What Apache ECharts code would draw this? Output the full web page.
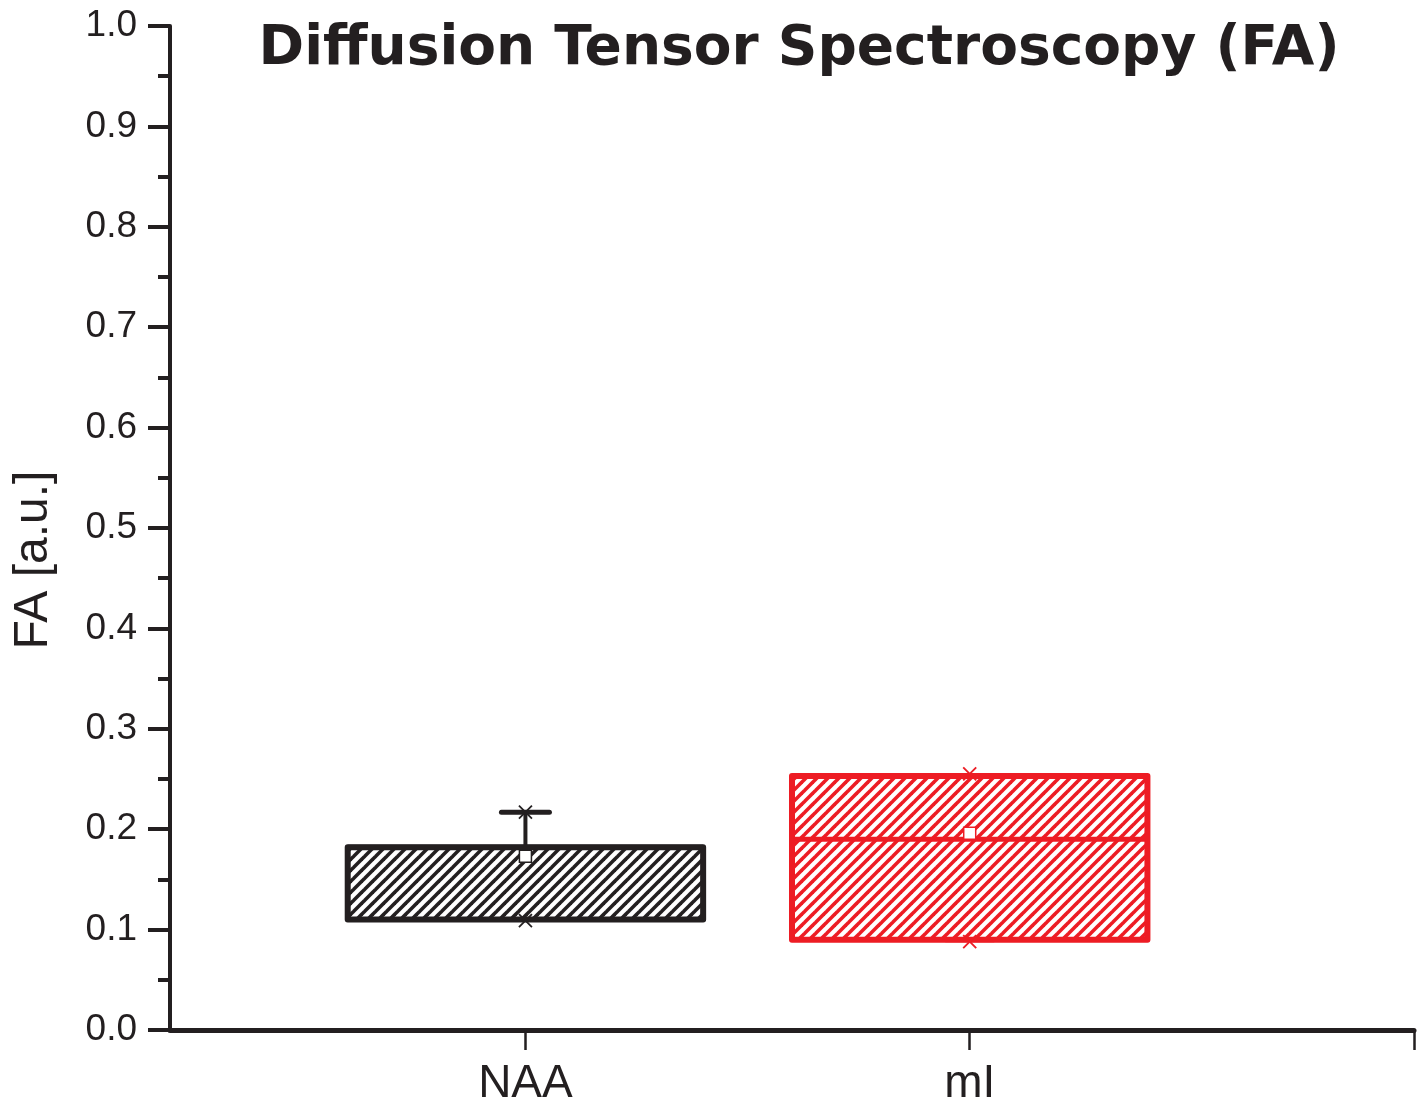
<!DOCTYPE html>
<html>
<head>
<meta charset="utf-8">
<script src="https://cdn.jsdelivr.net/npm/echarts@6/dist/echarts.min.js"></script>
<style>
html,body{margin:0;padding:0;background:#fff;}
#chart{width:1426px;height:1103px;}
</style>
</head>
<body>
<div id="chart"></div>
<script>
// ---- data ----
var categories = ['NAA', 'mI'];
var positions = [1, 2];
var q1 = [0.110, 0.090];
var q3 = [0.182, 0.253];
var medians = [0.182, 0.190];
var means = [0.173, 0.196];
var whiskerLow = [0.110, 0.090];
var whiskerHigh = [0.217, 0.253];
var minValues = [0.109, 0.088];
var maxValues = [0.217, 0.255];
var boxColors = ['#231f20', '#ed1c24'];
var yTicks = [0, 0.1, 0.2, 0.3, 0.4, 0.5, 0.6, 0.7, 0.8, 0.9, 1.0];

var ink = '#231f20';

function makeHatch(color) {
  var s = 11;
  var c = document.createElement('canvas');
  c.width = s; c.height = s;
  var g = c.getContext('2d');
  g.strokeStyle = color;
  g.lineWidth = 3.6;
  for (var k = -1; k <= 1; k++) {
    g.beginPath();
    g.moveTo(k * s - 2, s + 2);
    g.lineTo(k * s + s + 2, -2);
    g.stroke();
  }
  return c;
}
var hatches = boxColors.map(makeHatch);

var data = positions.map(function (p, i) {
  return [p, q1[i], q3[i], medians[i], means[i], whiskerLow[i], whiskerHigh[i], minValues[i], maxValues[i], i];
});

function renderItem(params, api) {
  var x = api.value(0);
  var idx = api.value(9);
  var col = boxColors[idx];
  var bw = api.size([0.8, 0])[0];
  var cw = api.size([0.108, 0])[0];
  var pQ1 = api.coord([x, api.value(1)]);
  var pQ3 = api.coord([x, api.value(2)]);
  var pMed = api.coord([x, api.value(3)]);
  var pMean = api.coord([x, api.value(4)]);
  var pWL = api.coord([x, api.value(5)]);
  var pWH = api.coord([x, api.value(6)]);
  var pMin = api.coord([x, api.value(7)]);
  var pMax = api.coord([x, api.value(8)]);
  var cx = pQ1[0];
  var children = [];
  // whiskers
  children.push({type: 'line', shape: {x1: cx, y1: pQ3[1], x2: cx, y2: pWH[1]}, style: {stroke: col, lineWidth: 4}});
  children.push({type: 'line', shape: {x1: cx - cw / 2, y1: pWH[1], x2: cx + cw / 2, y2: pWH[1]}, style: {stroke: col, lineWidth: 5, lineCap: 'round'}});
  children.push({type: 'line', shape: {x1: cx, y1: pQ1[1], x2: cx, y2: pWL[1]}, style: {stroke: col, lineWidth: 4}});
  children.push({type: 'line', shape: {x1: cx - cw / 2, y1: pWL[1], x2: cx + cw / 2, y2: pWL[1]}, style: {stroke: col, lineWidth: 5, lineCap: 'round'}});
  // box
  children.push({type: 'rect', shape: {x: cx - bw / 2, y: pQ3[1], width: bw, height: pQ1[1] - pQ3[1]},
    style: {fill: {image: hatches[idx], repeat: 'repeat'}, stroke: col, lineWidth: 6, lineJoin: 'round'}});
  // median
  children.push({type: 'line', shape: {x1: cx - bw / 2, y1: pMed[1], x2: cx + bw / 2, y2: pMed[1]}, style: {stroke: col, lineWidth: 5}});
  // mean square
  children.push({type: 'rect', shape: {x: cx - 6, y: pMean[1] - 6, width: 12, height: 12}, style: {fill: '#fff', stroke: col, lineWidth: 1.5}});
  // x markers
  [pMin, pMax].forEach(function (p) {
    var r = 6.5;
    children.push({type: 'line', shape: {x1: cx - r, y1: p[1] - r, x2: cx + r, y2: p[1] + r}, style: {stroke: col, lineWidth: 1.8}});
    children.push({type: 'line', shape: {x1: cx - r, y1: p[1] + r, x2: cx + r, y2: p[1] - r}, style: {stroke: col, lineWidth: 1.8}});
  });
  return {type: 'group', children: children};
}

var chart = echarts.init(document.getElementById('chart'), null, {renderer: 'canvas'});
chart.setOption({
  animation: false,
  backgroundColor: '#fff',
  title: {
    text: 'Diffusion Tensor Spectroscopy (FA)',
    left: 794, top: 17, textAlign: 'center',
    textStyle: {fontFamily: 'DejaVu Sans', fontWeight: 'bold', fontSize: 55, color: ink}
  },
  grid: {left: 170, right: 12, top: 26, bottom: 73, containLabel: false, outerBoundsMode: 'none'},
  xAxis: {
    type: 'value', min: 0.2, max: 3,
    axisLine: {show: true, lineStyle: {color: ink, width: 5}},
    axisTick: {show: true, length: 20, inside: false, lineStyle: {color: ink, width: 2.5}, customValues: [1, 2, 3]},
    axisLabel: {
      show: true, customValues: positions, margin: 31,
      fontFamily: 'Liberation Sans', fontSize: 46, color: ink,
      formatter: function (v) { var i = positions.indexOf(Math.round(v)); return i >= 0 ? categories[i] : ''; }
    },
    splitLine: {show: false}
  },
  yAxis: {
    type: 'value', min: 0, max: 1, interval: 0.1,
    name: 'FA [a.u.]', nameLocation: 'middle', nameGap: 112, nameRotate: 90,
    nameTextStyle: {fontFamily: 'Liberation Sans', fontSize: 48, color: ink, padding: [0, 64, 0, 0]},
    axisLine: {show: true, lineStyle: {color: ink, width: 4}},
    axisTick: {show: true, length: 22, inside: false, lineStyle: {color: ink, width: 4}, customValues: yTicks},
    minorTick: {show: true, splitNumber: 2, length: 12, lineStyle: {color: ink, width: 4}},
    axisLabel: {
      show: true, margin: 33, fontFamily: 'Liberation Sans', fontSize: 37, color: ink,
      customValues: yTicks,
      formatter: function (v) { return v.toFixed(1); }
    },
    splitLine: {show: false}
  },
  series: [{
    type: 'custom',
    renderItem: renderItem,
    encode: {x: 0, y: [1, 2, 3, 4, 5, 6, 7, 8]},
    data: data,
    clip: false
  }]
});
</script>
</body>
</html>
